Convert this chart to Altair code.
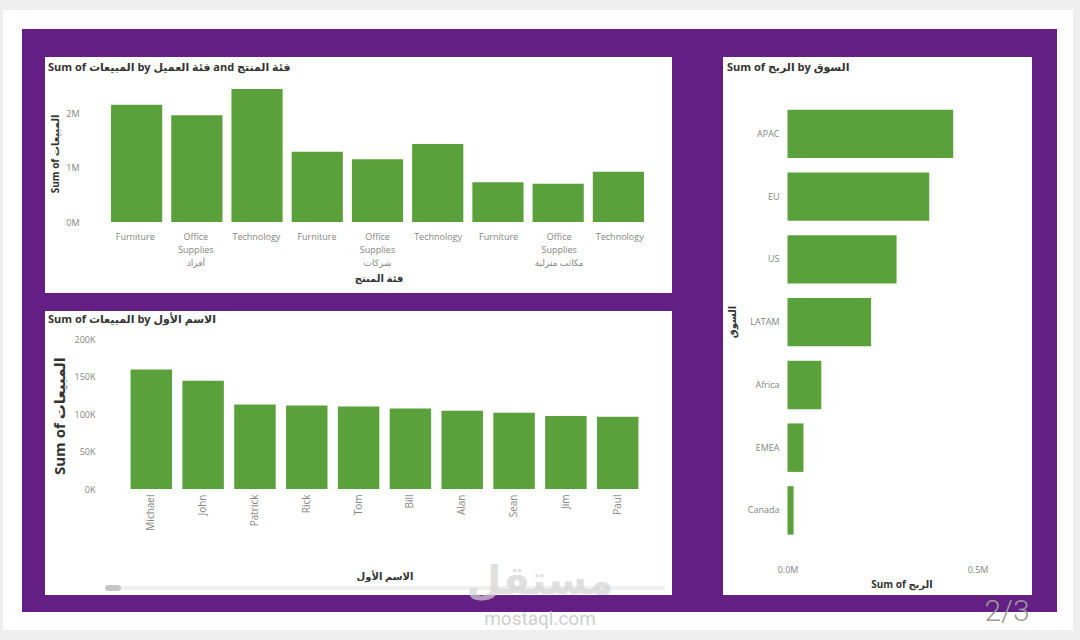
import altair as alt
import pandas as pd

FONT = "'Open Sans', 'DejaVu Sans', sans-serif"
GREEN = "#5ba13b"
PURPLE = "#641f84"
LABEL = "#858585"
DARK = "#333333"

# ---------------- data ----------------
segments = ["أفراد", "شركات", "مكاتب منزلية"]
categories = ["Furniture", "Office Supplies", "Technology"]
sales_afrad = [2.15e6, 1.96e6, 2.44e6]
sales_sharikat = [1.29e6, 1.15e6, 1.43e6]
sales_makatib = [0.73e6, 0.70e6, 0.92e6]

first_names = ["Michael", "John", "Patrick", "Rick", "Tom", "Bill", "Alan", "Sean", "Jim", "Paul"]
name_sales = [159.3e3, 144.5e3, 112.8e3, 111.4e3, 110.1e3, 107.4e3, 104.3e3, 101.6e3, 97.5e3, 96.2e3]

markets = ["APAC", "EU", "US", "LATAM", "Africa", "EMEA", "Canada"]
market_profit = [436e3, 373e3, 287e3, 220e3, 89e3, 42e3, 16e3]

title_a = "Sum of المبيعات by فئة العميل and فئة المنتج"
title_b = "Sum of المبيعات by الاسم الأول"
title_c = "Sum of الربح by السوق"

# ---------------- tables ----------------
rows = []
for seg, vals in zip(segments, [sales_afrad, sales_sharikat, sales_makatib]):
    for cat, v in zip(categories, vals):
        lbl = cat.replace(" ", "\n")
        if cat == "Office Supplies":
            lbl += "\n" + seg
        rows.append({"key": seg + "|" + cat, "sales": v, "lbl": lbl})
dfA = pd.DataFrame(rows)
keysA = list(dfA["key"])
dfB = pd.DataFrame({"name": first_names, "sales": name_sales})
dfC = pd.DataFrame({"market": markets, "profit": market_profit})

axis_style = dict(grid=False, ticks=False, domain=False, labelPadding=4, zindex=2,
                  labelFont=FONT, labelFontSize=9, labelColor=LABEL)


def box(x1, y1, x2, y2, color, **kw):
    return alt.Chart(alt.Data(values=[{}])).mark_rect(color=color, **kw).encode(
        x=alt.value(x1), x2=alt.value(x2), y=alt.value(y1), y2=alt.value(y2))


def txt(s, x, y, size, color=DARK, weight="bold", angle=0, align="left",
        baseline="middle", opacity=1.0, font=FONT):
    return alt.Chart(alt.Data(values=[{"t": s}])).mark_text(
        fontSize=size, color=color, fontWeight=weight, angle=angle, align=align,
        baseline=baseline, opacity=opacity, font=font).encode(
        x=alt.value(x), y=alt.value(y), text="t:N")


# ---------------- panel A ----------------
scA_x = alt.Scale(domain=keysA, range=[105, 650], paddingInner=0.15, paddingOuter=0.1)
barsA = alt.Chart(dfA).mark_bar(color=GREEN).encode(
    x=alt.X("key:N", scale=scA_x, axis=None),
    y=alt.Y("sales:Q", title=None,
            scale=alt.Scale(domain=[0, 2.5e6], range=[222, 85.75], nice=False),
            axis=alt.Axis(orient="left", offset=-83, values=[0, 1e6, 2e6],
                          labelExpr="datum.value / 1000000 + 'M'", **axis_style)),
)
lblA = alt.Chart(dfA).mark_text(baseline="top", align="center", lineBreak="\n",
                                fontSize=9, font=FONT, color=LABEL, lineHeight=13).encode(
    x=alt.X("key:N", scale=scA_x, axis=None),
    y=alt.value(233),
    text="lbl:N",
)

# ---------------- panel B ----------------
styleB = dict(axis_style)
styleB["labelPadding"] = 5
styleB["labelFontSize"] = 10
barsB = alt.Chart(dfB).mark_bar(color=GREEN).encode(
    x=alt.X("name:N", title=None,
            scale=alt.Scale(domain=first_names, range=[125.4, 643.6],
                            paddingInner=0.2, paddingOuter=0.1),
            axis=alt.Axis(orient="bottom", offset=-151, labelAngle=-90, **styleB)),
    y=alt.Y("sales:Q", title=None,
            scale=alt.Scale(domain=[0, 200000], range=[489, 339], nice=False),
            axis=alt.Axis(orient="left", offset=-99,
                          values=[0, 50000, 100000, 150000, 200000],
                          labelExpr="datum.value / 1000 + 'K'", **axis_style)),
)

# ---------------- panel C ----------------
barsC = alt.Chart(dfC).mark_bar(color=GREEN).encode(
    y=alt.Y("market:N", title=None,
            scale=alt.Scale(domain=markets, range=[97.1, 547.2],
                            paddingInner=0.228, paddingOuter=0.2),
            axis=alt.Axis(orient="left", offset=-783, **axis_style)),
    x=alt.X("profit:Q", title=None,
            scale=alt.Scale(domain=[0, 600000], range=[787.5, 1015.5], nice=False),
            axis=alt.Axis(orient="bottom", offset=-79, values=[0, 500000], labelFlush=False,
                          labelExpr="format(datum.value / 1000000, '.1f') + 'M'", **axis_style)),
)

layers = [
    box(3, 10, 1073, 630, "#ffffff"),
    box(22, 29, 1057, 612, PURPLE),
    box(45, 57, 672, 293, "#ffffff"),
    box(45, 311, 672, 595, "#ffffff"),
    box(723, 57, 1032, 595, "#ffffff"),
    box(105, 586, 665, 590, "#efefef", cornerRadius=2),
    box(105, 585, 121, 591, "#c6c6c6", cornerRadius=3),
    barsA, lblA, barsB, barsC,
    txt(title_a, 48, 68, 11),
    txt(title_b, 48, 320, 11),
    txt(title_c, 727, 68, 11),
    txt("Sum of المبيعات", 56, 154, 10, angle=270, align="center"),
    txt("Sum of المبيعات", 60, 416, 15, angle=270, align="center"),
    txt("السوق", 733, 322, 10, angle=270, align="center"),
    txt("فئة المنتج", 379, 279, 10, align="center"),
    txt("الاسم الأول", 385, 577, 10, align="center"),
    txt("Sum of الربح", 902, 585, 10, align="center"),
    txt("مستقل", 540, 582, 40, color="#d4d4d4", opacity=0.7, align="center"),
    txt("mostaql.com", 540, 619, 19, color="#c4c4c4", weight="normal", align="center",
        opacity=0.8, font="Roboto"),
    txt("2/3", 1007, 612, 30, color="#9a9a9a", weight=300, align="center", font="Roboto"),
]

chart = alt.layer(*layers).resolve_scale(
    x="independent", y="independent"
).properties(
    width=1080, height=640, autosize="none", padding=0, background="#efefef"
).configure_view(stroke="transparent")

chart.save("out.html", embed_options={"renderer": "svg", "actions": False})
